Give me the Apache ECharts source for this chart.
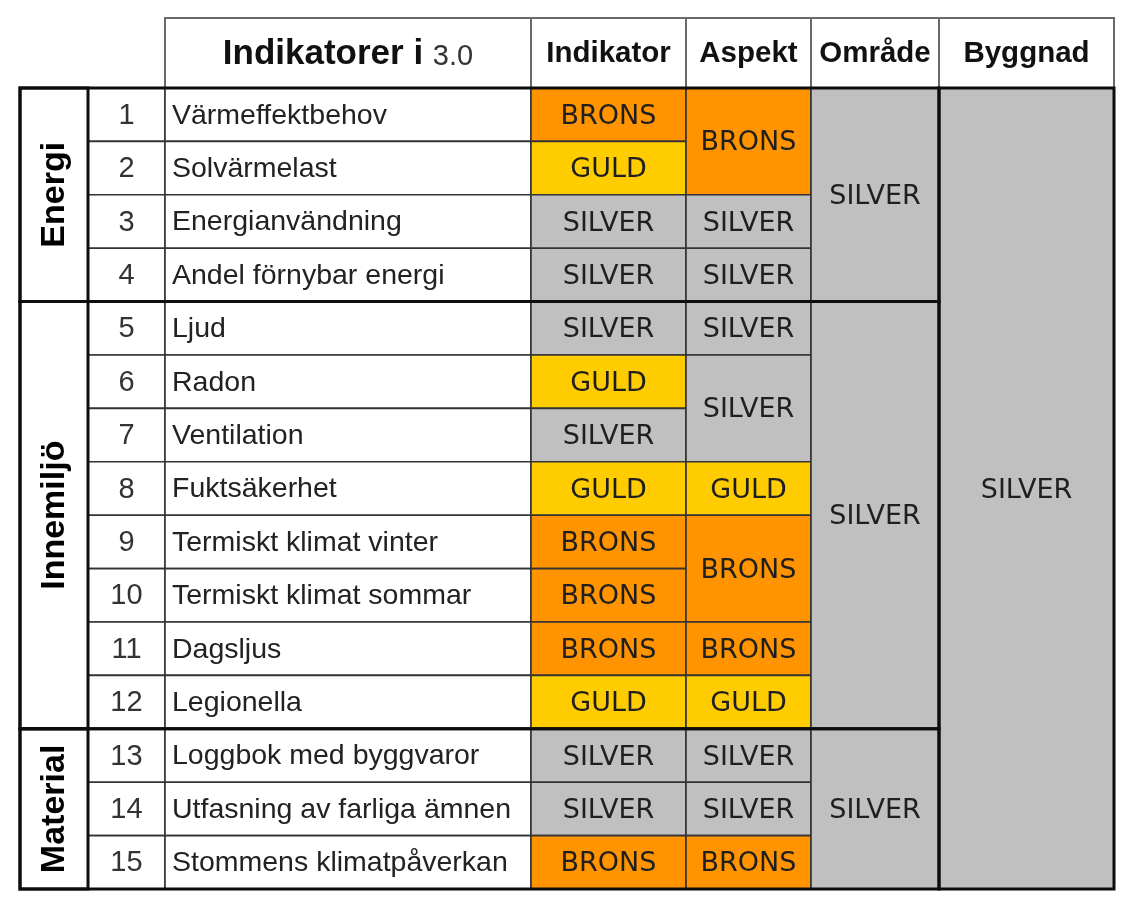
<!DOCTYPE html>
<html><head><meta charset="utf-8">
<script src="https://cdn.jsdelivr.net/npm/echarts@6/dist/echarts.min.js"></script>
<style>html,body{margin:0;padding:0;background:#fff}#chart{width:1138px;height:908px}</style>
</head><body><div id="chart"></div>
<script>
// ---------- DATA ----------
const tableTitle = 'Indikatorer i';
const tableVersion = '3.0';
const columnHeaders = ['Indikator', 'Aspekt', 'Område', 'Byggnad'];
const groupNames = ['Energi', 'Innemiljö', 'Material'];
const groupRanges = [[1, 4], [5, 12], [13, 15]];
const indicatorNumbers = [1, 2, 3, 4, 5, 6, 7, 8, 9, 10, 11, 12, 13, 14, 15];
const indicatorNames = [
  'Värmeffektbehov', 'Solvärmelast', 'Energianvändning', 'Andel förnybar energi',
  'Ljud', 'Radon', 'Ventilation', 'Fuktsäkerhet', 'Termiskt klimat vinter',
  'Termiskt klimat sommar', 'Dagsljus', 'Legionella', 'Loggbok med byggvaror',
  'Utfasning av farliga ämnen', 'Stommens klimatpåverkan'
];
const indikatorGrades = ['BRONS', 'GULD', 'SILVER', 'SILVER', 'SILVER', 'GULD', 'SILVER', 'GULD',
  'BRONS', 'BRONS', 'BRONS', 'GULD', 'SILVER', 'SILVER', 'BRONS'];
const aspektSpans = [[1, 2, 'BRONS'], [3, 3, 'SILVER'], [4, 4, 'SILVER'], [5, 5, 'SILVER'],
  [6, 7, 'SILVER'], [8, 8, 'GULD'], [9, 10, 'BRONS'], [11, 11, 'BRONS'], [12, 12, 'GULD'],
  [13, 13, 'SILVER'], [14, 14, 'SILVER'], [15, 15, 'BRONS']];
const omradeSpans = [[1, 4, 'SILVER'], [5, 12, 'SILVER'], [13, 15, 'SILVER']];
const byggnadSpans = [[1, 15, 'SILVER']];

// ---------- LAYOUT / STYLE ----------
const colEdges = [0, 68, 145, 511, 666, 791, 919, 1094];
const HEADER_H = 1.311;
const gradeFill = { BRONS: '#FF9400', GULD: '#FFCC00', SILVER: '#C0C0C0' };
const yTop = r => r === 0 ? -HEADER_H : r - 1;
const yBot = r => r === 0 ? 0 : r;

const cells = [];
function addCell(c0, c1, r0, r1, text, kind) {
  cells.push({ value: [colEdges[c0], colEdges[c1 + 1], yTop(r0), yBot(r1)], text, kind });
}
addCell(2, 2, 0, 0, '{b|' + tableTitle + ' }{r|' + tableVersion + '}', 'title');
columnHeaders.forEach((h, i) => addCell(3 + i, 3 + i, 0, 0, h, 'colhead'));
groupNames.forEach((g, i) => addCell(0, 0, groupRanges[i][0], groupRanges[i][1], g, 'group'));
indicatorNumbers.forEach((n, i) => addCell(1, 1, i + 1, i + 1, String(n), 'num'));
indicatorNames.forEach((n, i) => addCell(2, 2, i + 1, i + 1, n, 'name'));
indikatorGrades.forEach((g, i) => addCell(3, 3, i + 1, i + 1, g, 'grade'));
aspektSpans.forEach(s => addCell(4, 4, s[0], s[1], s[2], 'grade'));
omradeSpans.forEach(s => addCell(5, 5, s[0], s[1], s[2], 'grade'));
byggnadSpans.forEach(s => addCell(6, 6, s[0], s[1], s[2], 'grade'));

const outlines = [];
groupRanges.forEach(g => {
  outlines.push({ value: [colEdges[0], colEdges[6], yTop(g[0]), yBot(g[1])] });
  outlines.push({ value: [colEdges[0], colEdges[1], yTop(g[0]), yBot(g[1])] });
});
byggnadSpans.forEach(s => outlines.push({ value: [colEdges[6], colEdges[7], yTop(s[0]), yBot(s[1])] }));

const SANS = '"Liberation Sans", Arial, sans-serif';
const GRADEFONT = '"DejaVu Sans", Tahoma, Verdana, sans-serif';

function renderCell(params, api) {
  const cell = cells[params.dataIndex];
  const p0 = api.coord([api.value(0), api.value(2)]);
  const p1 = api.coord([api.value(1), api.value(3)]);
  const x0 = p0[0], y0 = p0[1], w = p1[0] - p0[0], h = p1[1] - p0[1];
  const cx = x0 + w / 2, cy = y0 + h / 2;
  const isHead = cell.kind === 'title' || cell.kind === 'colhead';
  const fill = cell.kind === 'grade' ? gradeFill[cell.text] : '#ffffff';
  const children = [{
    type: 'rect',
    shape: { x: x0, y: y0, width: w, height: h },
    style: {
      fill: fill,
      stroke: cell.kind === 'group' ? null : (isHead ? '#6a6a6a' : '#333333'),
      lineWidth: isHead ? 2 : 1.6
    }
  }];
  let t;
  if (cell.kind === 'group') {
    t = { type: 'text', x: cx + 1, y: cy, rotation: Math.PI / 2,
      style: { text: cell.text, x: 0, y: 0, align: 'center', verticalAlign: 'middle',
        fontFamily: SANS, fontWeight: 'bold', fontSize: 34, fill: '#000' } };
  } else if (cell.kind === 'title') {
    t = { type: 'text', style: { text: cell.text, x: cx, y: cy + 1, align: 'center', verticalAlign: 'middle',
      fontFamily: SANS, fill: '#111',
      rich: { b: { fontFamily: SANS, fontWeight: 'bold', fontSize: 35, fill: '#111', verticalAlign: 'bottom' },
              r: { fontFamily: SANS, fontSize: 29, fill: '#333', verticalAlign: 'bottom' } } } };
  } else if (cell.kind === 'colhead') {
    t = { type: 'text', style: { text: cell.text, x: cx, y: cy + 1, align: 'center', verticalAlign: 'middle',
      fontFamily: SANS, fontWeight: 'bold', fontSize: 29.5, fill: '#111' } };
  } else if (cell.kind === 'num') {
    t = { type: 'text', style: { text: cell.text, x: cx, y: cy + 1, align: 'center', verticalAlign: 'middle',
      fontFamily: SANS, fontSize: 29, fill: '#333' } };
  } else if (cell.kind === 'name') {
    t = { type: 'text', style: { text: cell.text, x: x0 + 7, y: cy + 1, align: 'left', verticalAlign: 'middle',
      fontFamily: SANS, fontSize: 28.5, fill: '#222' } };
  } else {
    t = { type: 'text', style: { text: cell.text, x: cx, y: cy + 2, align: 'center', verticalAlign: 'middle',
      fontFamily: GRADEFONT, fontSize: 27, fill: '#1f1f1f' } };
  }
  children.push(t);
  return { type: 'group', children };
}

function renderOutline(params, api) {
  const p0 = api.coord([api.value(0), api.value(2)]);
  const p1 = api.coord([api.value(1), api.value(3)]);
  return {
    type: 'rect',
    shape: { x: p0[0], y: p0[1], width: p1[0] - p0[0], height: p1[1] - p0[1] },
    style: { fill: null, stroke: '#0d0d0d', lineWidth: 3 }
  };
}

const chart = echarts.init(document.getElementById('chart'), null, { renderer: 'canvas' });
chart.setOption({
  backgroundColor: '#ffffff',
  animation: false,
  grid: { left: 20, top: 18, width: 1094, height: 871 },
  xAxis: { type: 'value', min: 0, max: 1094, show: false },
  yAxis: { type: 'value', min: -HEADER_H, max: 15, inverse: true, show: false },
  series: [
    { type: 'custom', renderItem: renderCell, data: cells, clip: false,
      encode: { x: [0, 1], y: [2, 3] }, silent: true },
    { type: 'custom', renderItem: renderOutline, data: outlines, clip: false,
      encode: { x: [0, 1], y: [2, 3] }, silent: true }
  ]
});
</script>
</body></html>
